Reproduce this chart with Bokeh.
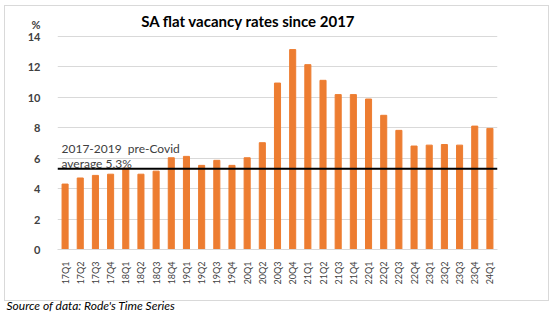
from bokeh.plotting import figure
from bokeh.models import Span, Label, ColumnDataSource, FactorRange, Title, InlineStyleSheet
from bokeh.embed import file_html
from bokeh.resources import INLINE
import math

quarters = ["17Q1", "17Q2", "17Q3", "17Q4", "18Q1", "18Q2", "18Q3", "18Q4",
            "19Q1", "19Q2", "19Q3", "19Q4", "20Q1", "20Q2", "20Q3", "20Q4",
            "21Q1", "21Q2", "21Q3", "21Q4", "22Q1", "22Q2", "22Q3", "22Q4",
            "23Q1", "23Q2", "23Q3", "23Q4", "24Q1"]
vacancy = [4.3, 4.7, 4.87, 4.95, 5.35, 4.95, 5.15, 6.03,
           6.12, 5.53, 5.86, 5.53, 6.03, 7.02, 10.94, 13.14,
           12.15, 11.12, 10.18, 10.18, 9.89, 8.82, 7.83, 6.8,
           6.86, 6.9, 6.86, 8.11, 7.96]
y_ticks = [0, 2, 4, 6, 8, 10, 12, 14]
unit_tick = 14.8          # where the "%" unit marker sits on the y axis
precovid_avg = 5.3

FONT = "Lato"
ORANGE = "#ED7D31"
GRID = "#D9D9D9"

src = ColumnDataSource(dict(q=quarters, v=vacancy))

border_css = InlineStyleSheet(css="""
:host { position: relative; }
:host::after {
  content: ""; position: absolute; left: 4px; top: 5px; width: 545px; height: 296px;
  border: 1px solid #D9D9D9; box-sizing: border-box; pointer-events: none;
}
""")

p = figure(width=554, height=321, x_range=FactorRange(*quarters, range_padding=0),
           y_range=(0, 15.84), output_backend="svg", toolbar_location=None,
           min_border_left=57, min_border_right=57, min_border_top=8,
           min_border_bottom=72, stylesheets=[border_css])
p.outline_line_color = None
p.background_fill_color = "white"
p.border_fill_color = "white"

p.vbar(x="q", top="v", width=0.4, source=src, fill_color=ORANGE, line_color=ORANGE)

p.xgrid.grid_line_color = None
p.ygrid.grid_line_color = GRID
p.ygrid.ticker = y_ticks
p.yaxis.ticker = y_ticks + [unit_tick]
p.yaxis.major_label_overrides = {unit_tick: "%"}

p.yaxis.axis_line_color = None
p.yaxis.major_tick_line_color = None
p.yaxis.minor_tick_line_color = None
p.yaxis.major_label_text_font = FONT
p.yaxis.major_label_text_font_style = "bold"
p.yaxis.major_label_text_font_size = "11px"
p.yaxis.major_label_text_color = "#404040"
p.yaxis.major_label_standoff = 11

p.xaxis.axis_line_color = GRID
p.xaxis.major_tick_line_color = None
p.xaxis.minor_tick_line_color = None
p.xaxis.major_label_orientation = math.pi / 2
p.xaxis.major_label_text_font = FONT
p.xaxis.major_label_text_font_size = "9px"
p.xaxis.major_label_text_color = "#404040"
p.xaxis.major_label_standoff = 6

p.add_layout(Span(location=precovid_avg, dimension="width", line_color="black", line_width=2))

p.add_layout(Label(x=0, y=6.66, x_offset=4, text="2017-2019\u00a0 pre-Covid",
                   text_baseline="alphabetic", text_font=FONT, text_font_size="12px",
                   text_color="#404040"))
p.add_layout(Label(x=0, y=5.64, x_offset=4, text="average 5,3%", text_baseline="alphabetic",
                   text_font=FONT, text_font_size="12px", text_color="#404040"))

p.add_layout(Label(x=191, y=15.0, x_units="screen",
                   text="SA flat vacancy rates since 2017", text_align="center",
                   text_baseline="middle", text_font=FONT, text_font_size="15px",
                   text_font_style="bold", text_color="black"))

p.add_layout(Title(text="Source of data: Rode's Time Series", align="left", offset=-51,
                   standoff=17, text_font=FONT, text_font_size="12px",
                   text_font_style="italic", text_color="black"), "below")

open("out.html", "w").write(file_html(p, INLINE))
